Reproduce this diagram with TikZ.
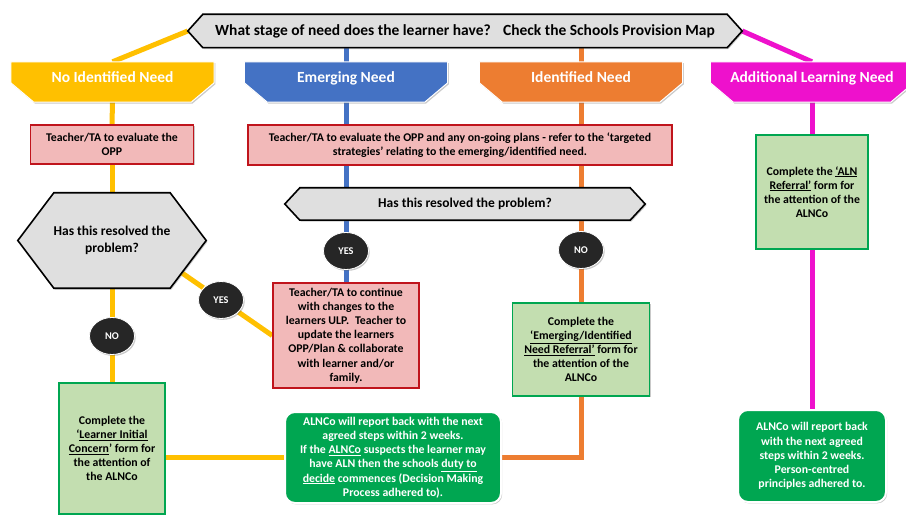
\documentclass[tikz,border=0pt]{standalone}
\usepackage{fontspec}
\setmainfont{Carlito}
\usetikzlibrary{calc,shadows,shapes.geometric}
\pgfdeclarelayer{bg}
\pgfdeclarelayer{shp}
\pgfsetlayers{bg,shp,main}
\definecolor{cgold}{HTML}{FFC000}
\definecolor{cblue}{HTML}{4472C4}
\definecolor{corange}{HTML}{ED7D31}
\definecolor{cmag}{HTML}{EE11CC}
\definecolor{cgrey}{HTML}{DFDFDF}
\definecolor{cpink}{HTML}{F2B9B9}
\definecolor{cdred}{HTML}{C0141C}
\definecolor{clgreen}{HTML}{C3DEB0}
\definecolor{cgreen}{HTML}{00A651}
\definecolor{cdark}{HTML}{262626}
\begin{document}
\begin{tikzpicture}[x=1pt,y=-1pt,
  conn/.style={line width=5pt},
  sh/.style={drop shadow={shadow xshift=1.2pt,shadow yshift=-1.4pt,opacity=.35,fill=black!60}},
  sm/.style={font=\fontsize{11.8}{14.2}\selectfont\bfseries, align=center, inner sep=0pt},
  hd/.style={font=\fontsize{15.5}{17}\selectfont\bfseries, text=white, inner sep=0pt,
    minimum width=203, minimum height=40, text height=11pt, text depth=9pt},
  qt/.style={font=\fontsize{15.5}{17}\selectfont\bfseries, inner sep=0pt},
  dt/.style={font=\fontsize{13.5}{16.5}\selectfont\bfseries, align=center, inner sep=0pt},
  pinkbox/.style={sm, fill=cpink, draw=cdred, line width=1.6pt, sh},
  lgbox/.style={sm, fill=clgreen, draw=cgreen, line width=1.6pt, sh},
  dgbox/.style={sm, text=white, fill=cgreen, draw=white, line width=2pt, rounded corners=10pt, sh},
  yn/.style={ellipse, minimum width=45, minimum height=37, inner sep=0pt, text=white,
    font=\fontsize{10.3}{12}\selectfont\bfseries, fill=cdark, draw=white, line width=0.8pt, sh},
  hexshape/.style={fill=cgrey, draw=black, line width=1.6pt, sh},
  hdshape/.style={draw=white, line width=1pt, sh}
]
\useasboundingbox (0,0) rectangle (906,516);

% banner and headers
\node[qt, minimum width=554, minimum height=33] (q) at (465,31)
  {What stage of need does the learner have?\hspace{0.5em} Check the Schools Provision Map};
\node[hd] (h1) at (112.5,82) {No Identified Need};
\node[hd] (h2) at (346,82) {Emerging Need};
\node[hd] (h3) at (581,82) {Identified Need};
\node[hd] (h4) at (812,82) {Additional Learning Need};

% evaluation boxes
\node[pinkbox, minimum width=163, minimum height=39] (r1) at (112,144.5)
  {Teacher/TA to evaluate the\\OPP};
\node[pinkbox, minimum width=424, minimum height=40] (r2) at (460,145)
  {Teacher/TA to evaluate the OPP and any on-going plans - refer to the ‘targeted\\strategies’ relating to the emerging/identified need.};

% decisions
\node[dt, minimum width=188, minimum height=95] (d1) at (112,240.5)
  {Has this resolved the\\problem?};
\node[dt, minimum width=360, minimum height=32] (d2) at (465,204)
  {Has this resolved the problem?};

% yes / no
\node[yn] (yes1) at (221,300) {YES};
\node[yn] (no1) at (112,336) {NO};
\node[yn] (yes2) at (346,251) {YES};
\node[yn] (no2) at (581,250) {NO};

% outcome boxes
\node[pinkbox, minimum width=146, minimum height=105] (r3) at (346,335.5)
  {Teacher/TA to continue\\with changes to the\\learners ULP.\hspace{0.5em}Teacher to\\update the learners\\OPP/Plan \& collaborate\\with learner and/or\\family.};
\node[lgbox, minimum width=106, minimum height=131] (g1) at (112,448.5)
  {Complete the\\‘\underline{Learner Initial}\\\underline{Concern}’ form for\\the attention of\\the ALNCo};
\node[lgbox, minimum width=137, minimum height=93] (g2) at (581,349.5)
  {Complete the\\\underline{‘Emerging/Identified}\\\underline{Need Referral’} form for\\the attention of the\\ALNCo};
\node[lgbox, minimum width=112, minimum height=114] (g3) at (812,192)
  {Complete the \underline{‘ALN}\\\underline{Referral’} form for\\the attention of the\\ALNCo};
\node[dgbox, minimum width=216, minimum height=91] (rg1) at (393,457.5)
  {ALNCo will report back with the next\\agreed steps within 2 weeks.\\If the \underline{ALNCo} suspects the learner may\\have ALN then the schools \underline{duty to}\\\underline{decide} commences (Decision Making\\Process adhered to).};
\node[dgbox, minimum width=148, minimum height=92] (rg2) at (812,456)
  {ALNCo will report back\\with the next agreed\\steps within 2 weeks.\\Person-centred\\principles adhered to.};

% shapes behind texts
\begin{pgfonlayer}{shp}
\path[hexshape] (q.west) -- ($(q.north west)+(15,0)$) -- ($(q.north east)+(-15,0)$) -- (q.east)
  -- ($(q.south east)+(-15,0)$) -- ($(q.south west)+(15,0)$) -- cycle;
\path[hexshape] (d2.west) -- ($(d2.north west)+(15,0)$) -- ($(d2.north east)+(-15,0)$) -- (d2.east)
  -- ($(d2.south east)+(-15,0)$) -- ($(d2.south west)+(15,0)$) -- cycle;
\path[hexshape] (d1.west) -- ($(d1.north west)+(36,0)$) -- ($(d1.north east)+(-36,0)$) -- (d1.east)
  -- ($(d1.south east)+(-36,0)$) -- ($(d1.south west)+(36,0)$) -- cycle;
\path[hdshape, fill=cgold] (h1.north west) -- (h1.north east) -- ($(h1.north east)+(0,21)$)
  -- ($(h1.south east)+(-23,0)$) -- ($(h1.south west)+(23,0)$) -- ($(h1.north west)+(0,21)$) -- cycle;
\path[hdshape, fill=cblue] (h2.north west) -- (h2.north east) -- ($(h2.north east)+(0,21)$)
  -- ($(h2.south east)+(-23,0)$) -- ($(h2.south west)+(23,0)$) -- ($(h2.north west)+(0,21)$) -- cycle;
\path[hdshape, fill=corange] (h3.north west) -- (h3.north east) -- ($(h3.north east)+(0,21)$)
  -- ($(h3.south east)+(-23,0)$) -- ($(h3.south west)+(23,0)$) -- ($(h3.north west)+(0,21)$) -- cycle;
\path[hdshape, fill=cmag] (h4.north west) -- (h4.north east) -- ($(h4.north east)+(0,21)$)
  -- ($(h4.south east)+(-23,0)$) -- ($(h4.south west)+(23,0)$) -- ($(h4.north west)+(0,21)$) -- cycle;
\end{pgfonlayer}

% connectors
\begin{pgfonlayer}{bg}
\fill[white] (0,0) rectangle (906,516);
\draw[conn, cgold] (q.west) -- (h1.north);
\draw[conn, cmag] (q.east) -- (h4.north);
\draw[conn, cblue] (h2.north |- q.south) -- (h2.north);
\draw[conn, corange] (h3.north |- q.south) -- (h3.north);
\draw[conn, cgold] (h1.south) -- (r1.north);
\draw[conn, cgold] (r1.south) -- (d1.north);
\draw[conn, cgold] (d1.south) -- (no1) -- (g1.north);
\draw[conn, cgold] (r3.west) -- (yes1) -- ($(r3.west)!2!(yes1)$);
\draw[conn, cgold] (g1.east |- rg1.west) -- (rg1.west);
\draw[conn, cblue] (h2.south) -- (h2.south |- r2.north);
\draw[conn, cblue] (h2.south |- r2.south) -- (h2.south |- d2.north);
\draw[conn, cblue] (h2.south |- d2.south) -- (yes2) -- (r3.north);
\draw[conn, corange] (h3.south) -- (h3.south |- r2.north);
\draw[conn, corange] (h3.south |- r2.south) -- (h3.south |- d2.north);
\draw[conn, corange] (h3.south |- d2.south) -- (no2) -- (g2.north);
\draw[conn, corange] (g2.south) |- (rg1.east);
\draw[conn, cmag] (h4.south) -- (g3.north);
\draw[conn, cmag] (g3.south) -- (rg2.north);
\end{pgfonlayer}
\end{tikzpicture}
\end{document}
